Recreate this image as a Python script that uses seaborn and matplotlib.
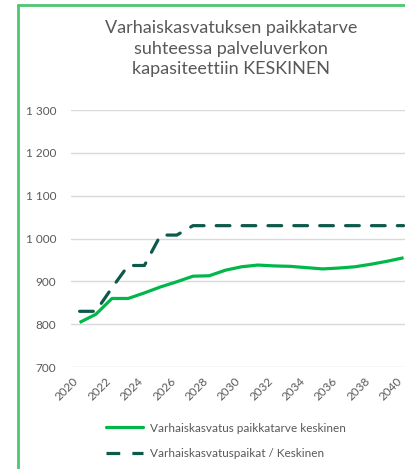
import matplotlib
matplotlib.use("Agg")
import matplotlib.pyplot as plt
import matplotlib.transforms as mtransforms
import seaborn as sns
import pandas as pd
from matplotlib.lines import Line2D

years = list(range(2020, 2041))
tarve = [804, 823, 860, 860, 873, 887, 899, 912, 913, 926, 934, 938, 936, 935, 932,
         929, 931, 934, 940, 947, 955]
paikat = [830, 830, 885, 937, 937, 1008, 1008, 1030, 1030, 1030, 1030, 1030, 1030,
          1030, 1030, 1030, 1030, 1030, 1030, 1030, 1030]
series_names = ["Varhaiskasvatus paikkatarve keskinen", "Varhaiskasvatuspaikat / Keskinen"]
title = "Varhaiskasvatuksen paikkatarve\nsuhteessa palveluverkon\nkapasiteettiin KESKINEN"
yticks = [700, 800, 900, 1000, 1100, 1200, 1300]
xticks = list(range(2020, 2041, 2))

sns.set_theme(style="white")
plt.rcParams["font.family"] = ["Lato", "DejaVu Sans"]

W, H = 406, 469
fig = plt.figure(figsize=(W / 100, H / 100), dpi=100)

ax_l, ax_r, ax_t, ax_b = 71.5, 406, 110, 367
ax = fig.add_axes([ax_l / W, 1 - ax_b / H, (ax_r - ax_l) / W, (ax_b - ax_t) / H])

green = "#00B84A"
dark = "#0D5A4A"
gray = "#595959"
dash_pat = (4.3, 3.8)

df1 = pd.DataFrame({"year": years, "value": tarve})
df2 = pd.DataFrame({"year": years, "value": paikat})
sns.lineplot(data=df1, x="year", y="value", ax=ax, color=green, linewidth=2.3)
sns.lineplot(data=df2, x="year", y="value", ax=ax, color=dark, linewidth=2.3)
ax.lines[1].set_dashes(dash_pat)
ax.lines[1].set_dash_capstyle("round")
ax.lines[0].set_solid_capstyle("butt")

ax.set_xlim(2019.5, 2019.5 + (ax_r - ax_l) / 16.2)
ax.set_ylim(700, 1300)
ax.set_yticks(yticks)
ax.set_yticklabels([f"{v:,}".replace(",", " ") for v in yticks])
ax.set_xticks(xticks)
ax.set_xticklabels([str(x) for x in xticks], rotation=45, ha="right", va="center",
                   rotation_mode="anchor")
ax.tick_params(axis="both", length=0, labelsize=8.5, labelcolor=gray)
ax.tick_params(axis="y", pad=11)
ax.tick_params(axis="x", pad=9)
shift = mtransforms.ScaledTranslation(-3 / 100, 0, fig.dpi_scale_trans)
for lbl in ax.get_xticklabels():
    lbl.set_transform(lbl.get_transform() + shift)
ax.grid(axis="y", color="#D9D9D9", linewidth=1)
ax.grid(axis="x", visible=False)
for s in ax.spines.values():
    s.set_visible(False)
ax.set_xlabel("")
ax.set_ylabel("")

fig.text(231 / W, 1 - 20 / H, title, ha="center", va="top", fontsize=13,
         color=gray, linespacing=1.35)

handles = [Line2D([], [], color=green, linewidth=2.3),
           Line2D([], [], color=dark, linewidth=2.3, dashes=dash_pat)]
fig.legend(handles, series_names, loc="upper center",
           bbox_to_anchor=(226 / W, 1 - 412 / H), frameon=False, fontsize=8.5,
           labelcolor=gray, handlelength=3.2, handletextpad=0.6, labelspacing=1.2)

border = "#4CC76E"
fig.add_artist(Line2D([18 / W, 18 / W], [0, 1 - 5.5 / H], color=border, linewidth=2,
                      transform=fig.transFigure))
fig.add_artist(Line2D([18 / W, 1], [1 - 5.5 / H, 1 - 5.5 / H], color=border, linewidth=2,
                      transform=fig.transFigure))

fig.savefig("out.png", dpi=100, facecolor="white")
